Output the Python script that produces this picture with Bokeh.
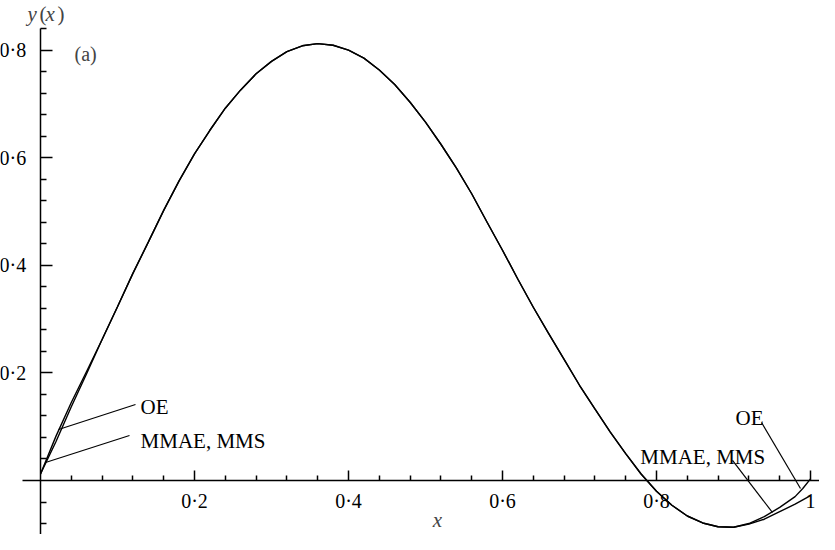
from bokeh.plotting import figure
from bokeh.models import LinearAxis, FixedTicker, CustomJSTickFormatter, Label, Range1d
from bokeh.embed import file_html
from bokeh.resources import INLINE

# ---- data ----
x_start = [0.0, 0.02, 0.04, 0.06]
y_oe_start = [0.012, 0.082, 0.145, 0.203]
y_mm_start = [0.012, 0.072, 0.137, 0.199]

x_mid = [0.08, 0.10, 0.12, 0.14, 0.16, 0.18, 0.20, 0.22, 0.24, 0.26, 0.28, 0.30,
         0.32, 0.34, 0.36, 0.38, 0.40, 0.42, 0.44, 0.46, 0.48, 0.50, 0.52, 0.54,
         0.56, 0.58, 0.60, 0.62, 0.64, 0.66, 0.68, 0.70, 0.72, 0.74, 0.76, 0.78,
         0.80, 0.82, 0.84, 0.86, 0.88, 0.90]
y_mid = [0.262, 0.323, 0.385, 0.443, 0.502, 0.557, 0.607, 0.651, 0.692, 0.726, 0.756, 0.779,
         0.797, 0.808, 0.812, 0.809, 0.800, 0.785, 0.763, 0.736, 0.703, 0.666, 0.625, 0.581,
         0.533, 0.480, 0.428, 0.374, 0.322, 0.273, 0.225, 0.177, 0.133, 0.090, 0.050, 0.012,
         -0.020, -0.046, -0.066, -0.079, -0.086, -0.087]

x_end = [0.92, 0.94, 0.96, 0.98, 0.99, 1.0]
y_oe_end = [-0.080, -0.067, -0.050, -0.030, -0.015, 0.003]
y_mm_end = [-0.081, -0.072, -0.058, -0.044, -0.036, -0.028]

x_major = [0.2, 0.4, 0.6, 0.8, 1.0]
x_tick_labels = ["0·2", "0·4", "0·6", "0·8", "1"]
y_major = [0.2, 0.4, 0.6, 0.8]
y_tick_labels = ["0·2", "0·4", "0·6", "0·8"]

# curve labels and their leader lines (x0, y0) -> (x1, y1)
curve_labels = ["OE", "MMAE, MMS", "OE", "MMAE, MMS"]
leader_x0 = [0.0234, 0.0065, 0.9364, 0.8987]
leader_y0 = [0.0948, 0.0335, 0.1078, 0.0372]
leader_x1 = [0.1234, 0.1156, 0.9870, 0.9506]
leader_y1 = [0.1413, 0.0836, -0.0149, -0.0595]

x_oe = x_start + x_mid + x_end
y_oe = y_oe_start + y_mid + y_oe_end
x_mm = x_start + x_mid + x_end
y_mm = y_mm_start + y_mid + y_mm_end

x_minor = [round(0.04 * i, 2) for i in range(1, 26) if i % 5 != 0]
y_minor = [round(0.04 * i, 2) for i in range(-2, 22) if i % 5 != 0]

FONT = "Liberation Serif"

p = figure(width=819, height=534, output_backend="svg", toolbar_location=None,
           x_range=Range1d(-0.05195, 1.01169), y_range=Range1d(-0.1004, 0.8922),
           x_axis_location=None, y_axis_location=None, min_border=0)
p.outline_line_color = None
p.grid.grid_line_color = None
p.background_fill_color = "white"

def fmt(vals, labs):
    return CustomJSTickFormatter(args=dict(vals=vals, labs=labs), code="""
        for (let i = 0; i < vals.length; i++) {
            if (Math.abs(vals[i] - tick) < 1e-9) { return labs[i]; }
        }
        return "";
    """)

xaxis = LinearAxis(fixed_location=0,
                   ticker=FixedTicker(ticks=x_major, minor_ticks=x_minor),
                   formatter=fmt(x_major, x_tick_labels),
                   bounds=(-0.023, 1.2),
                   major_tick_out=10, major_tick_in=0,
                   minor_tick_out=5, minor_tick_in=0,
                   major_label_standoff=-42,
                   axis_line_width=1.5, major_tick_line_width=1.5, minor_tick_line_width=1.5,
                   major_label_text_font=FONT, major_label_text_font_size="20px",
                   major_label_text_color="black")
p.add_layout(xaxis, "above")

yaxis = LinearAxis(fixed_location=0,
                   ticker=FixedTicker(ticks=y_major, minor_ticks=y_minor),
                   formatter=fmt(y_major, y_tick_labels),
                   bounds=(-0.1, 0.84),
                   major_tick_out=12, major_tick_in=0,
                   minor_tick_out=6, minor_tick_in=0,
                   major_label_standoff=-53,
                   axis_line_width=1.5, major_tick_line_width=1.5, minor_tick_line_width=1.5,
                   major_label_text_font=FONT, major_label_text_font_size="20px",
                   major_label_text_color="black")
p.add_layout(yaxis, "right")

p.line(x_oe, y_oe, line_color="black", line_width=1.4)
p.line(x_mm, y_mm, line_color="black", line_width=1.4)
p.segment(x0=leader_x0, y0=leader_y0, x1=leader_x1, y1=leader_y1,
          line_color="black", line_width=1.2)

label_pos = [(0.130, 0.136), (0.130, 0.074), (0.9026, 0.117), (0.779, 0.043)]
for t, (lx, ly) in zip(curve_labels, label_pos):
    p.add_layout(Label(x=lx, y=ly, text=t, text_font=FONT, text_font_size="21px",
                       text_color="black", text_baseline="alphabetic", text_align="left"))

p.add_layout(Label(x=0.0442, y=0.792, text="(a)", text_font=FONT, text_font_size="20px",
                   text_baseline="alphabetic"))
# y(x) axis title
for t, lx, st in [("y", -0.0169, "italic"), ("(", -0.0013, "normal"),
                  ("x", 0.0065, "italic"), (")", 0.0220, "normal")]:
    p.add_layout(Label(x=lx, y=0.868, text=t, text_font=FONT, text_font_size="21px",
                       text_font_style=st, text_baseline="alphabetic"))
# x axis title
p.add_layout(Label(x=0.5156, y=-0.0743, text="x", text_font=FONT, text_font_size="21px",
                   text_font_style="italic", text_baseline="alphabetic", text_align="center"))

open("out.html", "w").write(file_html(p, INLINE))
